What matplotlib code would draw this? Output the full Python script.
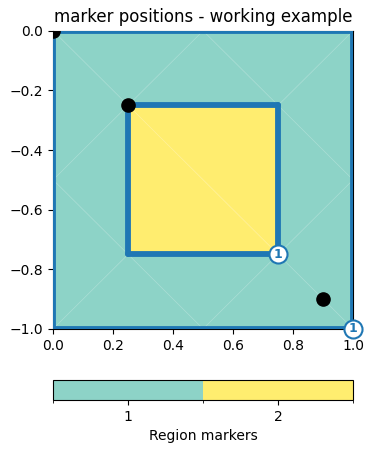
import matplotlib
matplotlib.use("Agg")
import matplotlib.pyplot as plt
import matplotlib.tri as mtri
from matplotlib.colors import ListedColormap, BoundaryNorm
import numpy as np

# mesh vertices
vx = [0.0, 0.5, 1.0, 1.0, 1.0, 0.5, 0.0, 0.0, 0.25, 0.75, 0.75, 0.25]
vy = [0.0, 0.0, 0.0, -0.5, -1.0, -1.0, -1.0, -0.5, -0.25, -0.25, -0.75, -0.75]
triangles = [[0, 1, 8], [1, 9, 8], [1, 2, 9],
             [2, 3, 9], [3, 10, 9], [3, 4, 10],
             [4, 5, 10], [5, 11, 10], [5, 6, 11],
             [6, 7, 11], [7, 8, 11], [7, 0, 8],
             [8, 9, 10], [8, 10, 11]]
regions = [1] * 12 + [2, 2]

# boundary segments
segments = [[0, 2], [2, 4], [4, 6], [6, 0], [8, 9], [9, 10], [10, 11], [11, 8]]

# black point markers
dot_x = [0.0, 0.25, 0.9]
dot_y = [0.0, -0.25, -0.9]

# labelled boundary markers
lab_x = [0.75, 1.0]
lab_y = [-0.75, -1.0]
lab_text = ["1", "1"]

region_ticks = [1, 2]

cmap = ListedColormap(["#8dd3c7", "#ffed6f"])
norm = BoundaryNorm([0.5, 1.5, 2.5], 2)

fig = plt.figure(figsize=(3.74, 4.53), dpi=100)
ax = fig.add_axes([0.142, 0.274, 0.802, 0.658])
cax = fig.add_axes([0.142, 0.117, 0.802, 0.044])

tri = mtri.Triangulation(vx, vy, triangles)
tpc = ax.tripcolor(tri, facecolors=np.array(regions, dtype=float), cmap=cmap, norm=norm,
                   edgecolors="face", linewidth=0.3)
ax.triplot(tri, color="white", alpha=0.18, lw=0.6, zorder=2)

for a, b in segments:
    ax.plot([vx[a], vx[b]], [vy[a], vy[b]], color="#1f77b4", lw=4.2,
            solid_capstyle="round", zorder=3)

ax.plot(dot_x, dot_y, "o", color="black", ms=9.5, zorder=4)

for x, y, t in zip(lab_x, lab_y, lab_text):
    ax.plot([x], [y], "o", ms=13, mfc="white", mec="#1f77b4", mew=1.5,
            zorder=5, clip_on=False)
    ax.text(x, y, t, color="#1f77b4", fontsize=9, fontweight="bold",
            ha="center", va="center", zorder=6, clip_on=False)

ax.set_xlim(0, 1)
ax.set_ylim(-1, 0)
ax.set_title("marker positions - working example")

cb = fig.colorbar(tpc, cax=cax, orientation="horizontal", ticks=region_ticks)
cb.set_label("Region markers")

fig.savefig("out.png", dpi=100)
